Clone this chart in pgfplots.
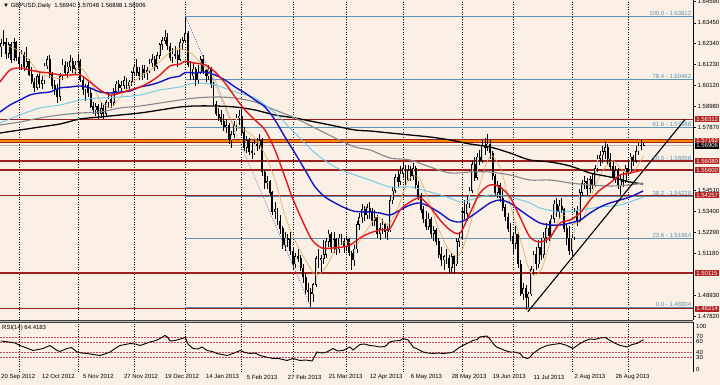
\documentclass[border=0pt]{standalone}
\usepackage{pgfplots}
\pgfplotsset{compat=1.18}
\usepackage{pgfplotstable}
\usepackage{fontspec}
\setmainfont{Liberation Sans}
\definecolor{bg}{RGB}{250,240,230}
\definecolor{lvl}{RGB}{160,30,30}
\definecolor{lvlbox}{RGB}{178,34,34}
\definecolor{fib}{RGB}{96,146,180}
\definecolor{mared}{RGB}{225,25,25}
\definecolor{mablue}{RGB}{20,20,190}
\definecolor{macyan}{RGB}{110,200,225}
\definecolor{magrey}{RGB}{135,135,135}
\definecolor{maorange}{RGB}{225,170,90}
\definecolor{rsilvl}{RGB}{200,70,100}
\definecolor{zz}{RGB}{90,90,180}
\definecolor{lvlorange}{RGB}{255,140,0}
\newcommand{\tf}{\fontsize{6}{7}\selectfont}

\pgfplotstableread{
i o h l c
0 1.6215 1.6260 1.6165 1.6235
1 1.6235 1.6308 1.6220 1.6240
2 1.6240 1.6265 1.6150 1.6180
3 1.6180 1.6240 1.6160 1.6230
4 1.6230 1.6245 1.6130 1.6150
5 1.6150 1.6265 1.6140 1.6240
6 1.6240 1.6250 1.6140 1.6160
7 1.6160 1.6190 1.6100 1.6125
8 1.6125 1.6200 1.6095 1.6180
9 1.6180 1.6190 1.6090 1.6110
10 1.6110 1.6215 1.6100 1.6140
11 1.6140 1.6150 1.6060 1.6070
12 1.6070 1.6110 1.6020 1.6030
13 1.6030 1.6050 1.5975 1.6000
14 1.6000 1.6070 1.5985 1.6060
15 1.6060 1.6090 1.6000 1.6020
16 1.6020 1.6060 1.5990 1.6040
17 1.6040 1.6130 1.6020 1.6115
18 1.6115 1.6170 1.6100 1.6150
19 1.6150 1.6175 1.6050 1.6070
20 1.6070 1.6085 1.5990 1.6010
21 1.6010 1.6040 1.5960 1.5990
22 1.5990 1.6020 1.5920 1.5950
23 1.5950 1.6075 1.5930 1.6060
24 1.6060 1.6150 1.6040 1.6120
25 1.6120 1.6140 1.6060 1.6080
26 1.6080 1.6135 1.6050 1.6110
27 1.6110 1.6175 1.6090 1.6140
28 1.6140 1.6160 1.6080 1.6100
29 1.6100 1.6140 1.6070 1.6120
30 1.6120 1.6180 1.6100 1.6140
31 1.6140 1.6150 1.6030 1.6040
32 1.6040 1.6060 1.5960 1.5990
33 1.5990 1.6020 1.5930 1.6010
34 1.6010 1.6030 1.5950 1.5970
35 1.5970 1.5990 1.5890 1.5900
36 1.5900 1.5925 1.5860 1.5880
37 1.5880 1.5920 1.5850 1.5900
38 1.5900 1.5910 1.5830 1.5860
39 1.5860 1.5920 1.5840 1.5890
40 1.5890 1.5905 1.5830 1.5860
41 1.5860 1.5935 1.5850 1.5920
42 1.5920 1.5970 1.5890 1.5940
43 1.5940 1.5960 1.5890 1.5920
44 1.5920 1.6000 1.5900 1.5980
45 1.5980 1.6035 1.5960 1.6020
46 1.6020 1.6040 1.5980 1.6000
47 1.6000 1.6035 1.5980 1.6010
48 1.6010 1.6060 1.5990 1.6040
49 1.6040 1.6050 1.5990 1.6010
50 1.6010 1.6040 1.5990 1.6030
51 1.6030 1.6090 1.6010 1.6080
52 1.6080 1.6125 1.6060 1.6110
53 1.6110 1.6150 1.6060 1.6080
54 1.6080 1.6110 1.6040 1.6060
55 1.6060 1.6120 1.6040 1.6100
56 1.6100 1.6120 1.6050 1.6080
57 1.6080 1.6110 1.6040 1.6090
58 1.6090 1.6150 1.6080 1.6130
59 1.6130 1.6180 1.6110 1.6150
60 1.6150 1.6170 1.6090 1.6110
61 1.6110 1.6190 1.6100 1.6170
62 1.6170 1.6240 1.6150 1.6230
63 1.6230 1.6270 1.6200 1.6250
64 1.6250 1.6308 1.6230 1.6270
65 1.6270 1.6290 1.6200 1.6220
66 1.6220 1.6240 1.6140 1.6160
67 1.6160 1.6210 1.6130 1.6180
68 1.6180 1.6220 1.6150 1.6170
69 1.6170 1.6200 1.6110 1.6150
70 1.6150 1.6260 1.6140 1.6240
71 1.6240 1.6270 1.6200 1.6250
72 1.6250 1.6381 1.6240 1.6290
73 1.6290 1.6300 1.6110 1.6120
74 1.6120 1.6140 1.6040 1.6060
75 1.6060 1.6130 1.6040 1.6100
76 1.6100 1.6110 1.6010 1.6040
77 1.6040 1.6120 1.6020 1.6080
78 1.6080 1.6170 1.6070 1.6150
79 1.6150 1.6175 1.6070 1.6090
80 1.6090 1.6100 1.6030 1.6060
81 1.6060 1.6120 1.6040 1.6100
82 1.6100 1.6110 1.6000 1.6020
83 1.6020 1.6030 1.5900 1.5910
84 1.5910 1.5930 1.5850 1.5860
85 1.5860 1.5890 1.5820 1.5840
86 1.5840 1.5880 1.5800 1.5820
87 1.5820 1.5860 1.5770 1.5790
88 1.5790 1.5830 1.5760 1.5800
89 1.5800 1.5810 1.5700 1.5720
90 1.5720 1.5770 1.5680 1.5750
91 1.5750 1.5820 1.5730 1.5800
92 1.5800 1.5860 1.5770 1.5840
93 1.5840 1.5880 1.5800 1.5850
94 1.5850 1.5885 1.5740 1.5760
95 1.5760 1.5790 1.5660 1.5680
96 1.5680 1.5740 1.5650 1.5720
97 1.5720 1.5730 1.5640 1.5660
98 1.5660 1.5710 1.5620 1.5650
99 1.5650 1.5720 1.5640 1.5700
100 1.5700 1.5730 1.5660 1.5690
101 1.5690 1.5750 1.5670 1.5720
102 1.5720 1.5730 1.5530 1.5550
103 1.5550 1.5560 1.5460 1.5490
104 1.5490 1.5530 1.5460 1.5500
105 1.5500 1.5510 1.5420 1.5440
106 1.5440 1.5450 1.5320 1.5340
107 1.5340 1.5390 1.5300 1.5350
108 1.5350 1.5360 1.5270 1.5290
109 1.5290 1.5320 1.5220 1.5250
110 1.5250 1.5260 1.5140 1.5160
111 1.5160 1.5230 1.5130 1.5200
112 1.5200 1.5220 1.5150 1.5190
113 1.5190 1.5230 1.5110 1.5130
114 1.5130 1.5150 1.5030 1.5060
115 1.5060 1.5120 1.5040 1.5100
116 1.5100 1.5140 1.5070 1.5090
117 1.5090 1.5110 1.5020 1.5040
118 1.5040 1.5060 1.4960 1.4990
119 1.4990 1.5010 1.4900 1.4920
120 1.4920 1.4960 1.4860 1.4910
121 1.4910 1.4930 1.4831 1.4900
122 1.4900 1.4960 1.4860 1.4950
123 1.4950 1.5100 1.4940 1.5090
124 1.5090 1.5140 1.5040 1.5080
125 1.5080 1.5110 1.5010 1.5090
126 1.5090 1.5190 1.5060 1.5110
127 1.5110 1.5200 1.5090 1.5180
128 1.5180 1.5240 1.5150 1.5220
129 1.5220 1.5230 1.5120 1.5150
130 1.5150 1.5230 1.5120 1.5190
131 1.5190 1.5200 1.5110 1.5140
132 1.5140 1.5220 1.5120 1.5200
133 1.5200 1.5220 1.5160 1.5180
134 1.5180 1.5200 1.5120 1.5150
135 1.5150 1.5210 1.5130 1.5190
136 1.5190 1.5200 1.5100 1.5120
137 1.5120 1.5130 1.5030 1.5080
138 1.5080 1.5160 1.5050 1.5140
139 1.5140 1.5290 1.5120 1.5270
140 1.5270 1.5330 1.5240 1.5310
141 1.5310 1.5380 1.5280 1.5350
142 1.5350 1.5370 1.5290 1.5320
143 1.5320 1.5380 1.5300 1.5360
144 1.5360 1.5390 1.5300 1.5340
145 1.5340 1.5360 1.5260 1.5290
146 1.5290 1.5350 1.5260 1.5310
147 1.5310 1.5320 1.5200 1.5220
148 1.5220 1.5280 1.5190 1.5250
149 1.5250 1.5300 1.5220 1.5270
150 1.5270 1.5280 1.5200 1.5230
151 1.5230 1.5260 1.5190 1.5240
152 1.5240 1.5420 1.5230 1.5400
153 1.5400 1.5470 1.5380 1.5450
154 1.5450 1.5540 1.5440 1.5520
155 1.5520 1.5560 1.5470 1.5500
156 1.5500 1.5580 1.5480 1.5540
157 1.5540 1.5605 1.5520 1.5570
158 1.5570 1.5590 1.5480 1.5510
159 1.5510 1.5590 1.5500 1.5560
160 1.5560 1.5580 1.5500 1.5530
161 1.5530 1.5600 1.5510 1.5570
162 1.5570 1.5580 1.5460 1.5480
163 1.5480 1.5500 1.5400 1.5420
164 1.5420 1.5440 1.5330 1.5350
165 1.5350 1.5370 1.5280 1.5300
166 1.5300 1.5340 1.5240 1.5260
167 1.5260 1.5330 1.5240 1.5300
168 1.5300 1.5310 1.5200 1.5220
169 1.5220 1.5260 1.5180 1.5240
170 1.5240 1.5250 1.5160 1.5180
171 1.5180 1.5200 1.5090 1.5110
172 1.5110 1.5150 1.5050 1.5080
173 1.5080 1.5110 1.5030 1.5100
174 1.5100 1.5140 1.5060 1.5090
175 1.5090 1.5110 1.5010 1.5040
176 1.5040 1.5120 1.5010 1.5100
177 1.5100 1.5110 1.5005 1.5060
178 1.5060 1.5200 1.5050 1.5180
179 1.5180 1.5230 1.5150 1.5200
180 1.5200 1.5360 1.5190 1.5340
181 1.5340 1.5400 1.5300 1.5330
182 1.5330 1.5420 1.5290 1.5380
183 1.5380 1.5470 1.5360 1.5450
184 1.5450 1.5610 1.5440 1.5590
185 1.5590 1.5630 1.5500 1.5520
186 1.5520 1.5650 1.5510 1.5630
187 1.5630 1.5670 1.5590 1.5610
188 1.5610 1.5720 1.5600 1.5690
189 1.5690 1.5730 1.5640 1.5680
190 1.5680 1.5752 1.5660 1.5700
191 1.5700 1.5720 1.5620 1.5650
192 1.5650 1.5660 1.5510 1.5530
193 1.5530 1.5540 1.5420 1.5440
194 1.5440 1.5500 1.5410 1.5480
195 1.5480 1.5490 1.5390 1.5410
196 1.5410 1.5460 1.5340 1.5360
197 1.5360 1.5380 1.5290 1.5310
198 1.5310 1.5330 1.5230 1.5250
199 1.5250 1.5280 1.5180 1.5210
200 1.5210 1.5230 1.5110 1.5170
201 1.5170 1.5260 1.5140 1.5220
202 1.5220 1.5230 1.5040 1.5060
203 1.5060 1.5080 1.4890 1.4900
204 1.4900 1.4960 1.4870 1.4930
205 1.4930 1.4950 1.4814 1.4880
206 1.4880 1.4910 1.4830 1.4900
207 1.4900 1.5050 1.4890 1.5030
208 1.5030 1.5130 1.5000 1.5110
209 1.5110 1.5150 1.5030 1.5060
210 1.5060 1.5190 1.5040 1.5150
211 1.5150 1.5200 1.5080 1.5110
212 1.5110 1.5230 1.5090 1.5200
213 1.5200 1.5280 1.5170 1.5250
214 1.5250 1.5290 1.5180 1.5210
215 1.5210 1.5320 1.5200 1.5300
216 1.5300 1.5400 1.5280 1.5380
217 1.5380 1.5410 1.5310 1.5340
218 1.5340 1.5400 1.5300 1.5370
219 1.5370 1.5410 1.5330 1.5350
220 1.5350 1.5360 1.5230 1.5250
221 1.5250 1.5280 1.5160 1.5200
222 1.5200 1.5260 1.5110 1.5130
223 1.5130 1.5220 1.5102 1.5200
224 1.5200 1.5360 1.5190 1.5340
225 1.5340 1.5370 1.5260 1.5290
226 1.5290 1.5460 1.5280 1.5440
227 1.5440 1.5510 1.5420 1.5490
228 1.5490 1.5530 1.5460 1.5500
229 1.5500 1.5520 1.5430 1.5460
230 1.5460 1.5530 1.5440 1.5510
231 1.5510 1.5540 1.5460 1.5480
232 1.5480 1.5590 1.5470 1.5570
233 1.5570 1.5640 1.5550 1.5620
234 1.5620 1.5660 1.5580 1.5640
235 1.5640 1.5690 1.5600 1.5660
236 1.5660 1.5717 1.5620 1.5680
237 1.5680 1.5700 1.5590 1.5620
238 1.5620 1.5650 1.5560 1.5580
239 1.5580 1.5610 1.5500 1.5520
240 1.5520 1.5580 1.5490 1.5560
241 1.5560 1.5570 1.5460 1.5480
242 1.5480 1.5540 1.5427 1.5510
243 1.5510 1.5550 1.5470 1.5500
244 1.5500 1.5590 1.5490 1.5570
245 1.5570 1.5610 1.5530 1.5550
246 1.5550 1.5650 1.5540 1.5630
247 1.5630 1.5640 1.5580 1.5610
248 1.5610 1.5690 1.5600 1.5660
249 1.5660 1.5710 1.5640 1.5690
250 1.5690 1.5720 1.5670 1.5694
251 1.5694 1.57048 1.56898 1.56906
}\ohlc

\pgfplotsset{
  mtgrid/.style={
    extra x ticks={7,30,52,72,94,114,135,157,180,200,223,245},
    extra x tick labels={},
    extra x tick style={grid=major, major tick length=0pt},
    major grid style={black, line width=0.5bp, dash pattern=on 1bp off 1.5bp},
  },
  lvlline/.style={lvl, line width=1.3bp, forget plot},
  fibline/.style={fib, line width=0.6bp, forget plot},
}

\begin{document}
\begin{tikzpicture}
\fill[bg] (0bp,0bp) rectangle (720bp,385bp);
\useasboundingbox (0bp,0bp) rectangle (720bp,385bp);

% ---------------- main price panel ----------------
\begin{axis}[
  at={(0bp,65bp)}, anchor=south west,
  width=693bp, height=320bp, scale only axis,
  xmin=-0.4, xmax=270.3, ymin=1.47616, ymax=1.64664,
  clip=false,
  axis x line*=bottom, x axis line style={draw=none},
  axis y line*=right, y axis line style={black, line width=0.8bp},
  xtick=\empty,
  mtgrid,
  ytick={1.6459,1.6345,1.6234,1.6123,1.6012,1.5898,1.5787,1.5451,1.5340,1.5229,1.5118,1.4893,1.4782},
  yticklabels={1.64590,1.63450,1.62340,1.61230,1.60120,1.58980,1.57870,1.54510,1.53400,1.52290,1.51180,1.48930,1.47820},
  yticklabel style={font=\tf, inner xsep=1.5bp},
  tick align=outside, major tick length=3bp,
  tick style={black, line width=0.5bp},
]
% fibonacci levels
\addplot[fibline] coordinates {(72,1.63812) (270.3,1.63812)};
\addplot[fibline] coordinates {(72,1.60462) (270.3,1.60462)};
\addplot[fibline] coordinates {(72,1.57888) (270.3,1.57888)};
\addplot[fibline] coordinates {(72,1.56058) (270.3,1.56058)};
\addplot[fibline] coordinates {(72,1.54228) (270.3,1.54228)};
\addplot[fibline] coordinates {(72,1.51964) (270.3,1.51964)};
\addplot[fibline] coordinates {(72,1.48304) (270.3,1.48304)};
% bid line
\addplot[gray!55, line width=0.7bp, forget plot] coordinates {(-0.4,1.56906) (270.3,1.56906)};
% horizontal levels
\addplot[lvlline] coordinates {(-0.4,1.58312) (270.3,1.58312)};
\addplot[lvl, line width=3.4bp, forget plot] coordinates {(-0.4,1.57162) (270.3,1.57162)};
\addplot[lvlorange, line width=1.6bp, forget plot] coordinates {(-0.4,1.57162) (270.3,1.57162)};
\addplot[lvlline] coordinates {(-0.4,1.56080) (270.3,1.56080)};
\addplot[lvlline] coordinates {(-0.4,1.55600) (270.3,1.55600)};
\addplot[lvlline] coordinates {(-0.4,1.54257) (270.3,1.54257)};
\addplot[lvlline] coordinates {(-0.4,1.50115) (270.3,1.50115)};
\addplot[lvlline] coordinates {(-0.4,1.48214) (270.3,1.48214)};

% candles: wicks
\addplot[draw=none, mark=none, forget plot,
  error bars/.cd, y dir=both, y explicit, error mark=none,
  error bar style={draw=black, line width=0.6bp}]
  table[x=i, y expr={(\thisrow{h}+\thisrow{l})/2}, y error expr={(\thisrow{h}-\thisrow{l})/2}] {\ohlc};
% candles: bodies
\addplot[draw=none, mark=none, forget plot,
  error bars/.cd, y dir=both, y explicit, error mark=none,
  error bar style={draw=black, line width=1.9bp}]
  table[x=i, y expr={(\thisrow{o}+\thisrow{c})/2}, y error expr={abs(\thisrow{c}-\thisrow{o})/2+0.0001}] {\ohlc};
% bull body interior
\addplot[draw=none, mark=none, forget plot,
  error bars/.cd, y dir=both, y explicit, error mark=none,
  error bar style={draw=gray!35, line width=0.7bp}]
  table[x=i, y expr={(\thisrow{o}+\thisrow{c})/2}, y error expr={max((\thisrow{c}-\thisrow{o})/2-0.00025,0)}] {\ohlc};

% moving averages
\addplot[maorange, line width=0.6bp, smooth, tension=0.5] coordinates {
(3,1.6220) (7,1.6196) (11,1.6147) (15,1.6076) (19,1.6059) (23,1.6047) (27,1.6058) (31,1.6106) (35,1.6034) (39,1.5925) (43,1.5896) (47,1.5956) (51,1.6021) (55,1.6064) (59,1.6100) (63,1.6151) (67,1.6199) (71,1.6205) (75,1.6173) (79,1.6116) (83,1.6056) (87,1.5925) (91,1.5798) (95,1.5775) (99,1.5733) (103,1.5647) (107,1.5510) (111,1.5316) (115,1.5180) (119,1.5080) (123,1.5000) (127,1.5045) (131,1.5145) (135,1.5178) (139,1.5166) (143,1.5244) (147,1.5313) (151,1.5269) (155,1.5358) (159,1.5506) (163,1.5523) (167,1.5401) (171,1.5245) (175,1.5133) (179,1.5106) (183,1.5255) (187,1.5481) (191,1.5634) (195,1.5573) (199,1.5374) (203,1.5185) (207,1.5011) (211,1.5029) (215,1.5200) (219,1.5320) (223,1.5279) (227,1.5293) (231,1.5439) (235,1.5555) (239,1.5611) (243,1.5556) (247,1.5551) (251,1.5637)};
\addplot[black, line width=1.3bp, smooth, tension=0.5] coordinates {
(-0.4,1.57578) (7.4,1.57738) (15.2,1.57898) (23.0,1.58058) (30.9,1.58325) (38.7,1.58431) (46.5,1.58538) (54.3,1.58644) (62.1,1.58804) (69.9,1.58964) (75.8,1.59017) (83.6,1.59017) (91.4,1.58964) (99.2,1.58804) (107.0,1.58538) (114.8,1.58378) (122.7,1.58165) (130.5,1.57952) (138.3,1.57738) (144.1,1.57685) (152.0,1.57578) (159.8,1.57472) (167.6,1.57365) (175.4,1.57206) (183.2,1.56993) (191.0,1.56833) (198.8,1.56513) (206.6,1.56140) (214.5,1.56034) (222.3,1.55821) (230.1,1.55448) (237.9,1.55235) (245.7,1.54968) (250.8,1.54862)};
\addplot[magrey, line width=1.1bp, smooth, tension=0.5] coordinates {
(-0.4,1.58005) (7.4,1.58165) (15.2,1.58378) (23.0,1.58538) (30.9,1.58644) (38.7,1.58697) (46.5,1.58911) (54.3,1.59017) (62.1,1.59177) (69.9,1.59337) (75.8,1.59443) (83.6,1.59497) (91.4,1.59443) (99.2,1.59230) (107.0,1.58804) (114.8,1.58378) (122.7,1.57845) (130.5,1.57312) (138.3,1.56833) (144.1,1.56673) (152.0,1.56247) (159.8,1.56140) (167.6,1.55767) (175.4,1.55448) (183.2,1.55501) (191.0,1.55501) (198.8,1.55341) (206.6,1.55075) (214.5,1.55075) (222.3,1.54915) (230.1,1.54809) (237.9,1.54755) (245.7,1.54809) (250.8,1.54915)};
\addplot[macyan, line width=0.9bp, smooth, tension=0.5] coordinates {
(-0.4,1.58111) (7.4,1.58538) (15.2,1.58911) (23.0,1.59070) (30.9,1.59337) (38.7,1.59443) (46.5,1.59497) (54.3,1.59603) (62.1,1.59870) (69.9,1.60029) (75.8,1.60242) (83.6,1.60136) (91.4,1.59763) (99.2,1.59443) (107.0,1.58644) (114.8,1.57578) (122.7,1.56513) (130.5,1.55767) (138.3,1.55341) (144.1,1.55075) (152.0,1.54702) (159.8,1.54702) (167.6,1.54435) (175.4,1.54116) (179.3,1.53903) (183.2,1.54009) (191.0,1.54276) (198.8,1.54169) (206.6,1.53849) (210.5,1.53583) (218.4,1.53370) (226.2,1.53476) (234.0,1.53636) (241.8,1.53743) (250.8,1.54169)};
\addplot[mablue, line width=1.4bp, smooth, tension=0.5] coordinates {
(-0.4,1.58697) (3.5,1.59070) (7.4,1.59337) (11.3,1.59603) (15.2,1.59710) (19.1,1.59763) (23.0,1.59976) (27.0,1.60029) (30.9,1.60083) (34.8,1.59976) (38.7,1.59763) (42.6,1.59710) (46.5,1.59763) (50.4,1.59816) (54.3,1.60029) (58.2,1.60136) (62.1,1.60296) (66.0,1.60509) (69.9,1.60615) (71.9,1.60800) (75.8,1.60775) (79.7,1.60829) (83.6,1.60669) (87.5,1.60402) (91.4,1.60029) (95.3,1.59710) (99.2,1.59337) (103.1,1.58964) (107.0,1.58271) (110.9,1.57365) (114.8,1.56513) (118.75,1.55608) (122.7,1.54702) (126.6,1.54169) (130.5,1.53849) (134.4,1.53583) (138.3,1.53400) (144.1,1.53370) (148.0,1.53316) (152.0,1.53210) (155.9,1.53476) (159.8,1.53743) (163.7,1.53849) (167.6,1.53636) (171.5,1.53316) (175.4,1.52943) (179.3,1.52837) (183.2,1.53103) (187.1,1.53476) (191.0,1.53849) (194.9,1.54009) (198.8,1.53849) (202.7,1.53476) (206.6,1.53103) (210.5,1.52783) (214.5,1.52677) (218.4,1.52677) (222.3,1.52783) (226.2,1.52943) (230.1,1.53316) (234.0,1.53636) (237.9,1.53849) (241.8,1.54009) (245.7,1.54169) (250.8,1.54489)};
\addplot[mared, line width=1.4bp, smooth, tension=0.5] coordinates {
(-0.4,1.60296) (3.5,1.60935) (7.4,1.61042) (11.3,1.60935) (15.2,1.60829) (19.1,1.60775) (23.0,1.60669) (27.0,1.60669) (30.9,1.60669) (34.8,1.60296) (38.7,1.59870) (42.6,1.59603) (46.5,1.59710) (50.4,1.59870) (54.3,1.60029) (58.2,1.60296) (62.1,1.60669) (66.0,1.61150) (69.9,1.61250) (71.9,1.61400) (75.8,1.61300) (79.7,1.61201) (83.6,1.60829) (87.5,1.60242) (91.4,1.59497) (95.3,1.58804) (99.2,1.58271) (103.1,1.57738) (107.0,1.56673) (110.9,1.55235) (113.7,1.54169) (117.6,1.52943) (121.5,1.51878) (125.4,1.51452) (129.3,1.51452) (133.2,1.51500) (136.3,1.51600) (140.2,1.51985) (144.1,1.52251) (148.0,1.52411) (152.0,1.52517) (155.9,1.53476) (159.8,1.53903) (163.7,1.54116) (167.6,1.53636) (171.5,1.52943) (175.4,1.52411) (179.3,1.52251) (183.2,1.53316) (187.1,1.54382) (191.0,1.54809) (194.9,1.54702) (198.8,1.54169) (202.7,1.53103) (206.6,1.52038) (210.5,1.51772) (214.5,1.52038) (218.4,1.52783) (222.3,1.52943) (226.2,1.53316) (230.1,1.54009) (234.0,1.54542) (237.9,1.54915) (241.8,1.55341) (245.7,1.55448) (250.8,1.55608)};

% zigzag and trend line
\addplot[zz, line width=0.6bp, dash pattern=on 1bp off 1.5bp] coordinates {(72,1.63812) (121,1.48304)};
\addplot[black, line width=1.1bp] coordinates {(205.8,1.4806) (267.2,1.5830)};

% fib labels
\foreach \v/\t in {1.63812/100.0 - 1.63812, 1.60462/78.4 - 1.60462, 1.57888/61.8 - 1.57888, 1.56058/50.0 - 1.56058, 1.54228/38.2 - 1.54228, 1.51964/23.6 - 1.51964, 1.48304/0.0 - 1.48304}{
  \edef\tmp{\noexpand\node[anchor=south east, text=fib, font=\noexpand\tf, inner sep=0.4bp] at (axis cs:269.8,\v) {\t};}\tmp
}
% right side boxes
\foreach \v in {1.58312,1.57162,1.56080,1.55600,1.54257,1.50115,1.48214}{
  \edef\tmp{\noexpand\node[anchor=west, fill=lvlbox, text=white, font=\noexpand\tf, inner xsep=1.2bp, inner ysep=0.9bp, xshift=2bp] at (axis cs:270.3,\v) {\v};}\tmp
}
\node[anchor=west, fill=black, text=white, font=\tf, inner xsep=1.2bp, inner ysep=0.9bp, xshift=2bp] at (axis cs:270.3,1.56906) {1.56906};
% header
\node[anchor=north west, font=\tf, inner sep=0pt] at (rel axis cs:0,1) [xshift=3bp, yshift=-2.5bp] {▼ GBPUSD,Daily\ \ 1.56940 1.57048 1.56898 1.56906};
\end{axis}

% ---------------- RSI panel ----------------
\begin{axis}[
  at={(0bp,13bp)}, anchor=south west,
  width=693bp, height=50bp, scale only axis,
  xmin=-0.4, xmax=270.3, ymin=0, ymax=100,
  clip=false,
  axis x line*=bottom, x axis line style={draw=none},
  axis y line*=right, y axis line style={black, line width=0.8bp},
  xtick={0,16,...,240},
  xticklabels={20 Sep 2012,12 Oct 2012,5 Nov 2012,27 Nov 2012,19 Dec 2012,14 Jan 2013,5 Feb 2013,27 Feb 2013,21 Mar 2013,12 Apr 2013,6 May 2013,28 May 2013,19 Jun 2013,11 Jul 2013,2 Aug 2013,26 Aug 2013},
  xticklabel style={font=\tf, anchor=north west, inner xsep=0pt, inner ysep=2.5bp},
  x tick style={draw=none},
  mtgrid,
  ytick=\empty,
]
\addplot[rsilvl, line width=0.5bp, dash pattern=on 1.5bp off 1.5bp, forget plot] coordinates {(-0.4,70) (270.3,70)};
\addplot[rsilvl, line width=0.5bp, dash pattern=on 1.5bp off 1.5bp, forget plot] coordinates {(-0.4,60) (270.3,60)};
\addplot[rsilvl, line width=0.5bp, dash pattern=on 1.5bp off 1.5bp, forget plot] coordinates {(-0.4,40) (270.3,40)};
\addplot[rsilvl, line width=0.5bp, dash pattern=on 1.5bp off 1.5bp, forget plot] coordinates {(-0.4,30) (270.3,30)};
\addplot[black, line width=0.9bp] coordinates {
(0,62) (3,60) (5.5,58) (7.4,53) (10,48) (12.5,43) (14.5,45) (16.4,47) (19.1,53) (21.9,43) (23,41) (25.8,47) (27.5,49) (29.7,40) (31.5,38) (33.6,37) (36,35) (38.7,33) (40.5,36) (42.6,40) (44.5,47) (46.5,53) (48.5,55) (50.4,57) (52.5,56) (54.3,53) (56,56) (58.2,60) (60.5,63) (62.1,67) (64,73) (65,70) (66,62) (68,63) (70,66) (72,69) (73,56) (75,47) (77,46) (78.5,50) (80.5,43) (82.5,41) (84.4,37) (86.3,35) (88.3,33) (90.6,37) (93.4,43) (95.3,39) (97.3,37) (99.2,38) (101.2,33) (103.5,30) (106.3,27) (108.5,27) (111.7,23) (114,27) (116.8,23) (119,24) (121.5,22) (123.4,40) (125.3,38) (127.3,40) (129.7,47) (131.5,42) (133.6,43) (136.3,50) (137.5,44) (140.2,55) (142,56) (144.1,53) (146,52) (148,50) (150,51) (151.9,60) (153.5,62) (155.9,63) (157,67) (159,64) (161,50) (163,45) (164.9,40) (166.8,38) (168.8,37) (170.7,38) (172.7,37) (174.6,38) (176.6,40) (179.3,50) (182,57) (184.4,63) (186,65) (187,70) (189.8,72) (191,66) (192.2,57) (193.5,50) (195,47) (196.9,43) (198.8,40) (200.7,40) (202.7,37) (203.9,30) (205.5,27) (206.5,29) (207.8,37) (210.5,47) (213.3,53) (215.5,55) (218.4,57) (220.5,54) (222.3,50) (223.4,47) (226.2,57) (228,62) (230,66) (232,65) (234,68) (236,69) (237.9,63) (240,57) (242,53) (244.5,50) (246.5,55) (248.4,57) (250,62) (251,64.42)};
\node[anchor=west, font=\tf, inner sep=0pt, xshift=3bp] at (axis cs:270.3,91) {100};
\node[anchor=west, font=\tf, inner sep=0pt, xshift=3bp] at (axis cs:270.3,71) {70};
\node[anchor=west, font=\tf, inner sep=0pt, xshift=3bp] at (axis cs:270.3,62) {60};
\node[anchor=west, font=\tf, inner sep=0pt, xshift=3bp] at (axis cs:270.3,39) {40};
\node[anchor=west, font=\tf, inner sep=0pt, xshift=3bp] at (axis cs:270.3,30) {30};
\node[anchor=west, font=\tf, inner sep=0pt, xshift=3bp] at (axis cs:270.3,5) {0};
\node[anchor=north west, font=\tf, inner sep=0pt] at (rel axis cs:0,1) [xshift=2bp, yshift=-3bp] {RSI(14) 64.4183};
\end{axis}
% panel separator
\fill[gray!55] (0bp,63bp) rectangle (693bp,65bp);
\draw[black!75, line width=0.5bp] (0bp,65bp) -- (693.4bp,65bp);
\draw[black!75, line width=0.5bp] (0bp,63bp) -- (693.4bp,63bp);
\end{tikzpicture}
\end{document}
